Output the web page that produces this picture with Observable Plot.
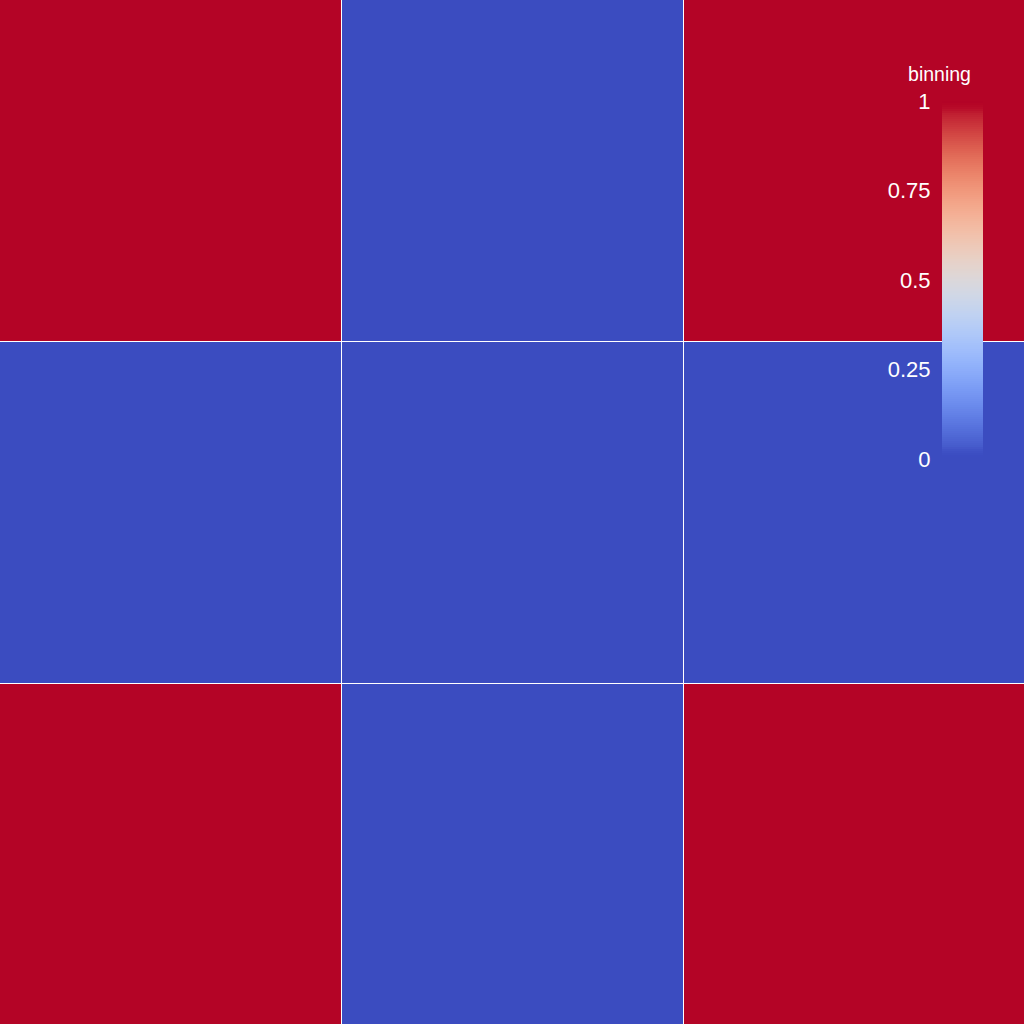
<!DOCTYPE html>
<html>
<head>
<meta charset="utf-8">
<script src="https://cdn.jsdelivr.net/npm/d3@7"></script>
<script src="https://cdn.jsdelivr.net/npm/@observablehq/plot@0.6"></script>
<style>
  html, body { margin: 0; padding: 0; background: #ffffff; }
  #wrap { position: relative; width: 1024px; height: 1024px; font-family: "Liberation Sans", Arial, sans-serif; }
  #legend { position: absolute; left: 870px; top: 50px; }
</style>
</head>
<body>
<div id="wrap"><div id="main"></div><div id="legend"></div></div>
<script>
// Data
const columns = ["c0", "c1", "c2"];
const rows = ["r0", "r1", "r2"];
const values = [
  [1, 0, 1],
  [0, 0, 0],
  [1, 0, 1]
];
const legendTitle = "binning";
const legendTicks = [0, 0.25, 0.5, 0.75, 1];
const colorDomain = [0, 1];
// coolwarm colour stops
const coolwarmStops = ["#3b4cc0", "#6282ea", "#8db0fe", "#b8d0f9", "#dddddd", "#f5c4ac", "#f49a7b", "#de604d", "#b40426"];
const coolwarm = d3.interpolateRgbBasis(coolwarmStops);

const cells = [];
rows.forEach((r, i) => columns.forEach((c, j) => cells.push({row: r, col: c, value: values[i][j]})));

const main = Plot.plot({
  width: 1024,
  height: 1024,
  margin: 0,
  style: {background: "#ffffff"},
  x: {domain: columns, padding: 0, axis: null, range: [-1, 1025]},
  y: {domain: rows, padding: 0, axis: null, range: [-1, 1025]},
  color: {type: "linear", domain: colorDomain, interpolate: coolwarm},
  marks: [
    Plot.cell(cells, {x: "col", y: "row", fill: "value", inset: 0.5, shapeRendering: "crispEdges"})
  ]
});
document.getElementById("main").appendChild(main);

// Vertical colour bar
const n = 179;
const step = 1 / n;
const ramp = d3.range(n).map(i => i * step);
const fade = v => Math.max(0, Math.min(1, Math.min(v, 1 - v) / 0.035));

const legend = Plot.plot({
  width: 154,
  height: 430,
  marginLeft: 72,
  marginRight: 41,
  marginTop: 51,
  marginBottom: 21,
  style: {background: "transparent", color: "#ffffff", fontFamily: "Liberation Sans, Arial, sans-serif", overflow: "visible"},
  x: {domain: [0, 1], axis: null},
  y: {domain: colorDomain, axis: null},
  color: {type: "linear", domain: colorDomain, interpolate: coolwarm},
  marks: [
    Plot.rect(ramp, {x1: 0, x2: 1, y1: d => d, y2: d => Math.min(1, d + step), fill: d => d + step / 2, fillOpacity: d => fade(d + step / 2), shapeRendering: "crispEdges"}),
    Plot.axisY({ticks: legendTicks, tickSize: 0, tickPadding: 12, fontSize: 22, fill: "#ffffff", label: null, tickFormat: d3.format("")}),
    Plot.text([legendTitle], {frameAnchor: "top-left", dx: -3, dy: -34, fontSize: 19.5, fill: "#ffffff", textAnchor: "middle"})
  ]
});
document.getElementById("legend").appendChild(legend);
</script>
</body>
</html>
